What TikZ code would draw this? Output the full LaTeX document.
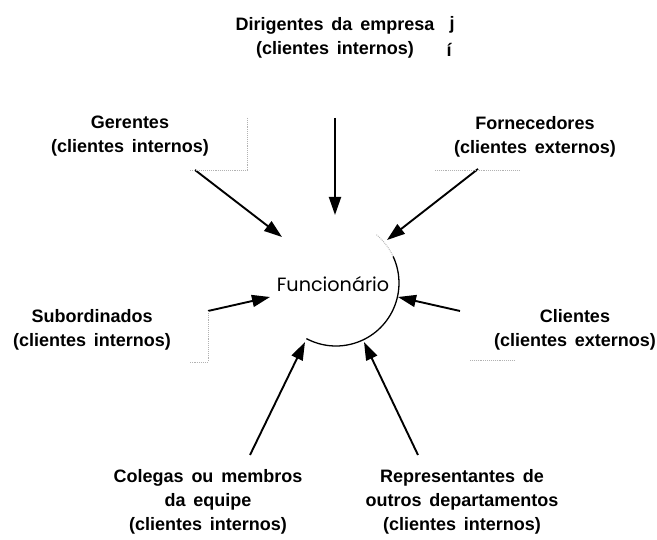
\documentclass[tikz,border=0pt]{standalone}
\usepackage{fontspec}
\setmainfont{Liberation Sans}
\newfontfamily\funfont{Poppins}
\usetikzlibrary{arrows.meta}
\newcommand\lblfont{\fontsize{18}{24}\selectfont\bfseries}
\newcommand\ws{\hspace{0.44em}}
\begin{document}
\begin{tikzpicture}[x=1pt,y=1pt,
  lbl/.style={font=\lblfont, align=center, inner sep=0pt, text=black},
  flow/.style={line width=1.9pt, -{Triangle[length=18pt,width=12pt]}},
  ghost/.style={gray!60, line width=0.9pt, densely dotted}]
\useasboundingbox (0,0) rectangle (657,540);
\fill[white] (0,0) rectangle (657,540);
% labels
\node[lbl] (dir) at (335,502.5) {Dirigentes\ws da\ws empresa\\(clientes\ws internos)};
\node[lbl] (jj) at (452,515) {j};
\node[lbl] (ii) at (449,490) {í};
\node[lbl] (ger) at (130,403.5) {Gerentes\\(clientes\ws internos)};
\node[lbl] (forn) at (535,403.5) {Fornecedores\\(clientes\ws externos)};
\node[lbl] (sub) at (92,210) {Subordinados\\(clientes\ws internos)};
\node[lbl] (cli) at (575,210) {Clientes\\(clientes\ws externos)};
\node[lbl] (col) at (208,38) {Colegas\ws ou\ws membros\\da\ws equipe\\(clientes\ws internos)};
\node[lbl] (rep) at (462,38) {Representantes\ws de\\outros\ws departamentos\\(clientes\ws internos)};
\node[font=\funfont\fontsize{19.2}{22}\selectfont, inner sep=0pt] (fun) at (333,256) {Funcionário};
% circle arc
\coordinate (c) at (336,257);
\draw[line width=1.3pt] ([shift={(-118:63)}]c) arc[start angle=-118, end angle=25, radius=63];
\draw[ghost] ([shift={(25:63)}]c) arc[start angle=25, end angle=50, radius=63];
% connector ends
\coordinate (sDir) at (335,422); \coordinate (eDir) at (335,325);
\coordinate (sGer) at (195,370); \coordinate (eGer) at (282,303);
\coordinate (sForn) at (478,371); \coordinate (eForn) at (387,300);
\coordinate (sSub) at (208,229); \coordinate (eSub) at (270,243);
\coordinate (sCli) at (460,229); \coordinate (eCli) at (398,243);
\coordinate (sCol) at (250,85); \coordinate (eCol) at (305,198);
\coordinate (sRep) at (418,85); \coordinate (eRep) at (364,198);
\draw[flow] (sDir) -- (eDir);
\draw[flow] (sGer) -- (eGer);
\draw[flow] (sForn) -- (eForn);
\draw[flow] (sSub) -- (eSub);
\draw[flow] (sCli) -- (eCli);
\draw[flow] (sCol) -- (eCol);
\draw[flow] (sRep) -- (eRep);
% faded box remnants
\draw[ghost] (247,422) -- (247,370) -- (190,370);
\draw[ghost] (435,370) -- (520,370);
\draw[ghost] (sSub) -- (208,178) -- (190,178);
\draw[ghost] (470,180) -- (515,180);
\end{tikzpicture}
\end{document}
